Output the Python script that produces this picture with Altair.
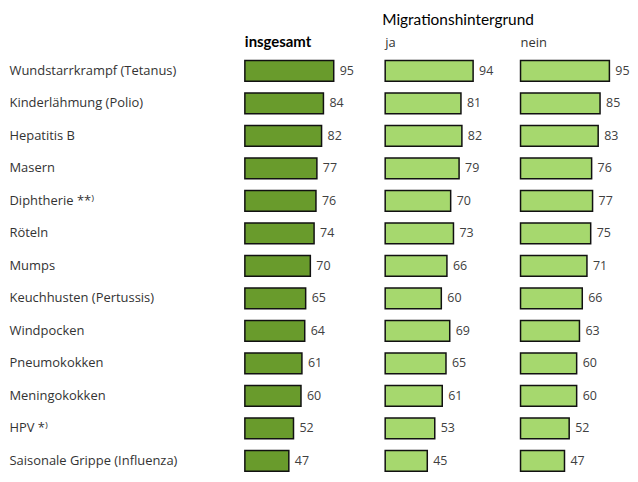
import altair as alt
import pandas as pd

categories = [
    "Wundstarrkrampf (Tetanus)", "Kinderlähmung (Polio)", "Hepatitis B", "Masern",
    "Diphtherie **⁾", "Röteln", "Mumps", "Keuchhusten (Pertussis)", "Windpocken",
    "Pneumokokken", "Meningokokken", "HPV *⁾", "Saisonale Grippe (Influenza)",
]
insgesamt = [95, 84, 82, 77, 76, 74, 70, 65, 64, 61, 60, 52, 47]
ja = [94, 81, 82, 79, 70, 73, 66, 60, 69, 65, 61, 53, 45]
nein = [95, 85, 83, 76, 77, 75, 71, 66, 63, 60, 60, 52, 47]

PX_PER_UNIT = 0.94
HEIGHT = 416
LABEL_FONT = "Open Sans"
HEAD_FONT = "Lato"


def panel(values, color, title, width, bold, first):
    df = pd.DataFrame({"cat": categories, "val": values})
    yenc = alt.Y(
        "cat:N", sort=None,
        scale=alt.Scale(paddingInner=0.36, paddingOuter=0.05),
        axis=alt.Axis(title=None, labelAlign="left", labelPadding=237, ticks=False,
                      tickSize=0, domain=False, labelFont=LABEL_FONT, labelFontSize=13,
                      labelColor="#333333", labelLimit=300) if first else None,
    )
    xenc = alt.X("val:Q", scale=alt.Scale(domain=[0, width / PX_PER_UNIT], nice=False, zero=True),
                 axis=None)
    base = alt.Chart(df).encode(y=yenc, x=xenc)
    bars = base.mark_bar(color=color, stroke="#111111", strokeWidth=1.5)
    text = base.mark_text(align="left", baseline="middle", dx=6, font=LABEL_FONT,
                          fontSize=12.5, color="#404040").encode(text="val:Q")
    return alt.layer(bars, text).properties(
        width=width, height=HEIGHT,
        title=alt.TitleParams(title, anchor="start", frame="group",
                              font=HEAD_FONT if bold else LABEL_FONT,
                              fontSize=15 if bold else 13,
                              fontWeight="bold" if bold else "normal",
                              color="#000000" if bold else "#333333", offset=9),
    )


p1 = panel(insgesamt, "#699B2C", "insgesamt", 140, True, True)
p2 = panel(ja, "#A6D86E", "ja", 135, False, False)
p3 = panel(nein, "#A6D86E", "nein", 100, False, False)

chart = alt.hconcat(p1, p2, p3, spacing=0).properties(
    title=alt.TitleParams("Migrationshintergrund", anchor="start", font=HEAD_FONT,
                          fontSize=15.5, fontWeight="normal", color="#000000", dx=375, offset=7),
    padding={"left": 1, "top": 3, "right": 0, "bottom": 0},
).configure_view(stroke=None)

chart.save("out.html", embed_options={"renderer": "svg", "actions": False})
